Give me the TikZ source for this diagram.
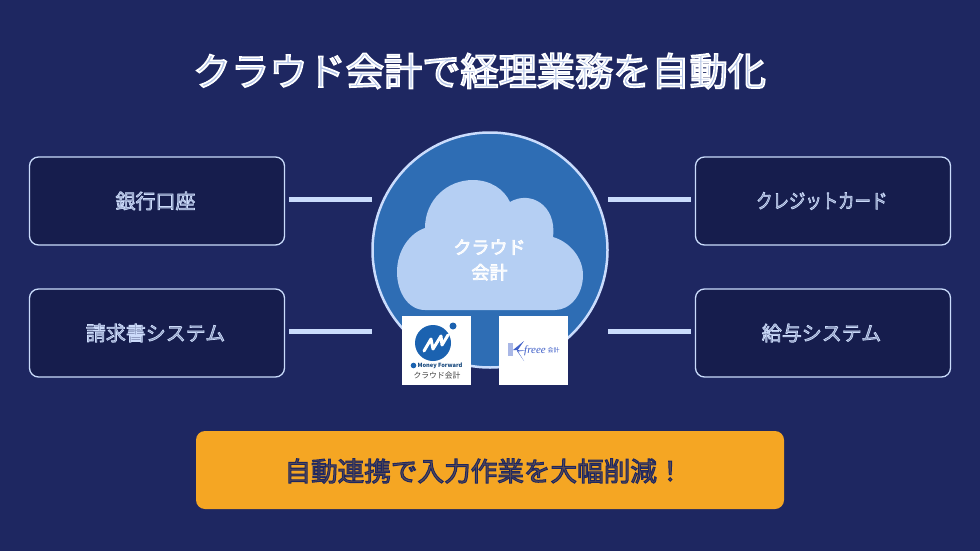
\documentclass[tikz,border=0pt]{standalone}
\usepackage{fontspec}
\setmainfont{Noto Sans CJK JP}
\newfontfamily\logoserif{Liberation Serif}
\usepackage{tikz}
\definecolor{pagebg}{HTML}{1E2761}
\definecolor{boxbg}{HTML}{161D4D}
\definecolor{paleblue}{HTML}{CADCFC}
\definecolor{midblue}{HTML}{2E6DB4}
\definecolor{cloudblue}{HTML}{B5CFF3}
\definecolor{barorange}{HTML}{F5A623}
\definecolor{freeeblue}{HTML}{3F5FC8}
\definecolor{mfblue}{HTML}{1B62B0}
% outlined text: stroke colour (pdf rgb), stroke width, text
\newcommand{\outlined}[3]{\special{pdf:code 2 Tr #2 w #1 RG}#3\special{pdf:code 0 Tr}}
\newcommand{\labeltext}[1]{\kern-3pt\outlined{0.80 0.86 0.98}{0.7}{#1}}
\tikzset{
  sourcebox/.style={draw=paleblue,fill=boxbg,line width=1.3pt,rounded corners=9pt,minimum width=255pt,minimum height=88pt,text=paleblue!60!boxbg,font=\fontsize{20}{24}\selectfont},
  link/.style={draw=paleblue,line width=5pt},
  logobox/.style={fill=white,minimum width=69pt,minimum height=69pt,inner sep=0pt},
}
\begin{document}
\begin{tikzpicture}[x=1pt,y=-1pt]
  \useasboundingbox (0,0) rectangle (980,551);
  \fill [pagebg] (0,0) rectangle (980,551);

  % title
  \node (title) [text=paleblue!85!pagebg,font=\fontsize{38.2}{46}\selectfont] at (479.5,71) {\outlined{1 1 1}{1.7}{クラウド会計で経理業務を自動化}};

  % hub circle
  \node (hub) [circle,draw=paleblue,fill=midblue,line width=2.5pt,minimum size=235pt,inner sep=0pt] at (490,250) {};

  % cloud
  \fill [cloudblue] (425,310) .. controls (408,310) and (397,292) .. (397,272)
    .. controls (397,250) and (410,233) .. (425,228)
    .. controls (425,200) and (447,180) .. (473,180)
    .. controls (490,180) and (504,189) .. (510,202)
    .. controls (530,190) and (557,205) .. (553,237)
    .. controls (570,242) and (583,258) .. (583,275)
    .. controls (583,295) and (570,310) .. (555,310) -- cycle;
  \node (cloudtext) [text=white!85!cloudblue,align=center,font=\fontsize{18}{25}\selectfont] at (489.5,260) {\outlined{1 1 1}{0.7}{クラウド}\\\outlined{1 1 1}{0.7}{会計}};

  % sources left and right
  \node (bank) [sourcebox] at (157,201) {\labeltext{銀行口座}};
  \node (invoice) [sourcebox] at (157,333) {\labeltext{請求書システム}};
  \node (card) [sourcebox] at (823,201) {\scalebox{.82}[1]{\labeltext{クレジットカード}}};
  \node (payroll) [sourcebox] at (823,333) {\labeltext{給与システム}};

  % connector ends at the circle
  \coordinate (bankin) at (372,199);
  \coordinate (invoicein) at (372,331);
  \coordinate (cardin) at (608,199);
  \coordinate (payrollin) at (608,331);
  \coordinate (bankout) at (289,199);
  \coordinate (invoiceout) at (289,331);
  \coordinate (cardout) at (691,199);
  \coordinate (payrollout) at (691,331);
  \draw [link] (bankout) -- (bankin);
  \draw [link] (invoiceout) -- (invoicein);
  \draw [link] (cardout) -- (cardin);
  \draw [link] (payrollout) -- (payrollin);

  % logos
  \node (mfbox) [logobox] at (436.5,350.5) {};
  \fill [mfblue] (433,343) circle (18);
  \fill [white] (453,326) circle (6);
  \fill [mfblue] (453,326) circle (3.5);
  \draw [white,line width=3pt,line join=round,line cap=round] (424,351) -- (431,339) -- (433,349) -- (441,336) -- (442,345) -- (448,335);
  \fill [mfblue] (413.5,365.5) circle (2.8);
  \node (mfname) [text=mfblue!70!black,inner sep=0pt,font=\fontsize{5.7}{7}\selectfont\bfseries] at (440,365.5) {Money Forward};
  \node (mfsub) [text=black!75,inner sep=0pt,font=\fontsize{7.8}{9}\selectfont] at (437,376) {クラウド会計};
  \node (freeebox) [logobox] at (533,350.5) {};
  \fill [freeeblue!45] (508,343) rectangle (513,356);
  \fill [freeeblue] (524,341) -- (513,350) -- (525,350.5) -- (518,351.5) -- (524,361) -- (517,351) -- cycle;
  \node (freeename) [text=freeeblue,inner sep=0pt,font=\fontsize{11}{13}\logoserif\itshape] at (535,350.5) {freee};
  \node (freeesub) [text=freeeblue,inner sep=0pt,font=\fontsize{6}{7}\selectfont] at (553.5,350) {会計};

  % bottom bar
  \node (summary) [fill=barorange,rounded corners=9pt,minimum width=588pt,minimum height=78pt] at (490,470) {};
  \node (summarytext) [text=pagebg!70!barorange,font=\fontsize{26.6}{30}\selectfont] at (484,471) {\outlined{0.118 0.153 0.38}{1}{自動連携で入力作業を大幅削減！}};
\end{tikzpicture}
\end{document}
